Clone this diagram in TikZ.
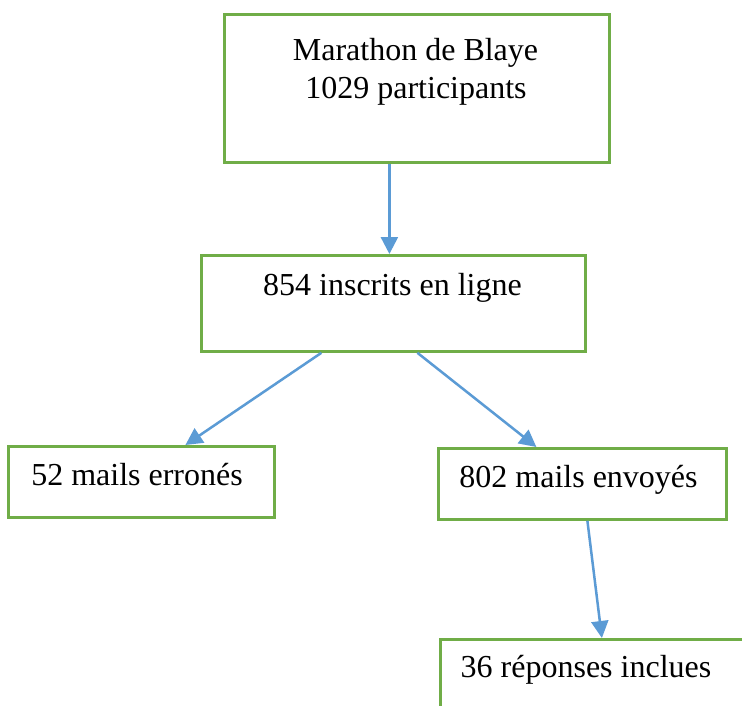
\documentclass[tikz,border=0pt]{standalone}
\usepackage{fontspec}
\setmainfont{Liberation Serif}
\usetikzlibrary{arrows.meta}
\definecolor{boxgreen}{RGB}{112,173,71}
\definecolor{arrblue}{RGB}{91,155,213}
\begin{document}
\begin{tikzpicture}[x=1pt,y=-1pt,
  box/.style={draw=boxgreen,line width=2.8pt,rectangle,inner sep=0pt,anchor=north west},
  txt/.style={font=\fontsize{32}{38}\selectfont,inner sep=0pt,anchor=base,align=center},
  conn/.style={draw=arrblue,line width=2.5pt,-{Triangle[length=17pt,width=17pt]}}]
\useasboundingbox (0,0) rectangle (742,706);
\fill[white] (0,0) rectangle (742,706);
% boxes
\node[box,minimum width=385pt,minimum height=148pt] (n1) at (223,13) {};
\node[box,minimum width=384pt,minimum height=96pt] (n2) at (200,254) {};
\node[box,minimum width=266pt,minimum height=71pt] (n3) at (7,445) {};
\node[box,minimum width=288pt,minimum height=71pt] (n4) at (437,447) {};
\node[box,minimum width=322pt,minimum height=100pt] (n5) at (439,638) {};
% texts
\node[txt] (t1a) at (415.5,61) {Marathon de Blaye};
\node[txt] (t1b) at (416,99) {1029 participants};
\node[txt] (t2) at (392.5,295) {854 inscrits en ligne};
\node[txt] (t3) at (137,485) {52 mails erronés};
\node[txt] (t4) at (578.5,487) {802 mails envoyés};
\node[txt] (t5) at (586,677) {36 réponses inclues};
% connectors
\draw[conn] ([xshift=-27.5pt]n1.south) -- ([xshift=-4pt]n2.north);
\draw[conn] ([xshift=-72pt]n2.south) -- ([xshift=44pt]n3.north);
\draw[conn] ([xshift=24pt]n2.south) -- ([xshift=-46pt]n4.north);
\draw[conn] ([xshift=5pt]n4.south) -- ([xshift=0.5pt]n5.north);
\end{tikzpicture}
\end{document}
